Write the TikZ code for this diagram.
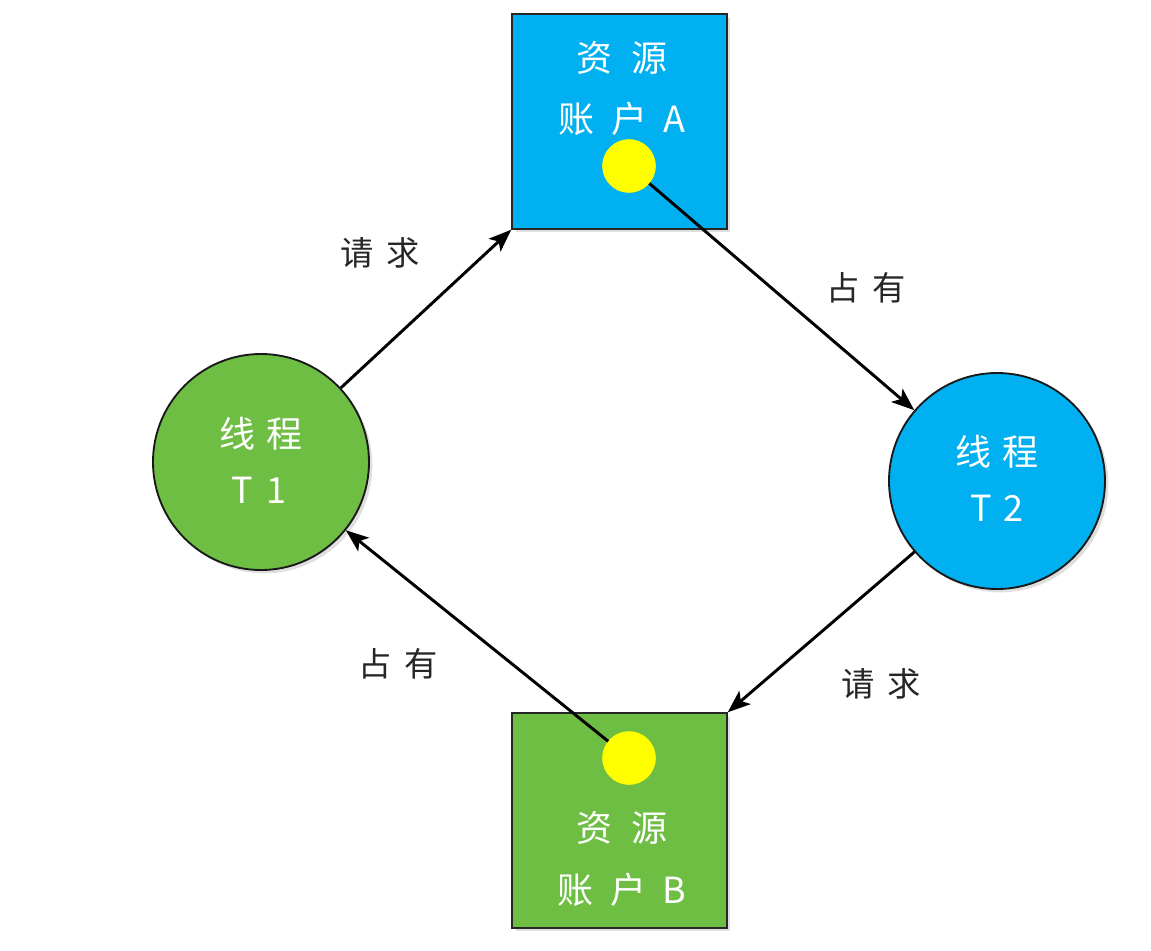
\documentclass[tikz,border=0pt]{standalone}
\usepackage{fontspec}
\newfontfamily\cjk{Noto Sans CJK SC}
\usetikzlibrary{arrows.meta,shadows}
\definecolor{resblue}{HTML}{00B0F0}
\definecolor{resgreen}{HTML}{6FBE44}
\definecolor{dotyellow}{HTML}{FFFF00}
\begin{document}
\begin{tikzpicture}[x=0.75pt,y=-0.75pt,
  resbox/.style={draw=black!85,line width=1.3pt,minimum size=161pt,inner sep=0pt,
    drop shadow={opacity=0.25,shadow xshift=2.5pt,shadow yshift=-2.5pt}},
  thread/.style={circle,draw=black!90,line width=1.4pt,minimum size=162pt,inner sep=0pt,
    drop shadow={opacity=0.25,shadow xshift=2.5pt,shadow yshift=-2.5pt}},
  holddot/.style={circle,fill=dotyellow,minimum size=40pt,inner sep=0pt},
  intext/.style={text=white,font=\cjk\fontsize{27}{32}\selectfont,inner sep=0pt},
  lbl/.style={text=black!85,font=\cjk\fontsize{25}{30}\selectfont,inner sep=0pt},
  conn/.style={line width=2.2pt,-{Stealth[length=17pt,width=13pt,inset=4pt]}}]
\useasboundingbox[fill=white] (0,0) rectangle (1151,950);
% resource boxes
\node[resbox,fill=resblue] (ra) at (619.5,121.5) {};
\node[resbox,fill=resgreen] (rb) at (619.5,820.5) {};
% threads
\node[thread,fill=resgreen] (t1) at (261,462) {};
\node[thread,fill=resblue] (t2) at (997,481) {};
% texts
\node[intext] (ra1) at (622,58) {资\hspace{0.55em}源};
\node[intext] (ra2) at (622,119) {账\hspace{0.45em}户\hspace{0.45em}A};
\node[intext] (rb1) at (622,828) {资\hspace{0.55em}源};
\node[intext] (rb2) at (622,890) {账\hspace{0.45em}户\hspace{0.45em}B};
\node[intext] (t1a) at (261,434) {线\hspace{0.3em}程};
\node[intext] (t1b) at (259,490) {T\hspace{0.35em}1};
\node[intext] (t2a) at (997,452) {线\hspace{0.3em}程};
\node[intext] (t2b) at (997,508) {T\hspace{0.3em}2};
% dots
\node[holddot] (da) at (629,166) {};
\node[holddot] (db) at (629,758) {};
% connectors
\draw[conn] (t1) -- (ra.south west);
\draw[conn] (da.center) -- (t2);
\draw[conn] (t2) -- (rb.north east);
\draw[conn] (db.center) -- (t1);
% redraw dots on top
\node[holddot] at (da.center) {};
\node[holddot] at (db.center) {};
% labels
\node[lbl] (l1) at (380,253) {请\hspace{0.4em}求};
\node[lbl] (l2) at (866,288) {占\hspace{0.4em}有};
\node[lbl] (l3) at (881,684) {请\hspace{0.4em}求};
\node[lbl] (l4) at (398,664) {占\hspace{0.4em}有};
\end{tikzpicture}
\end{document}
